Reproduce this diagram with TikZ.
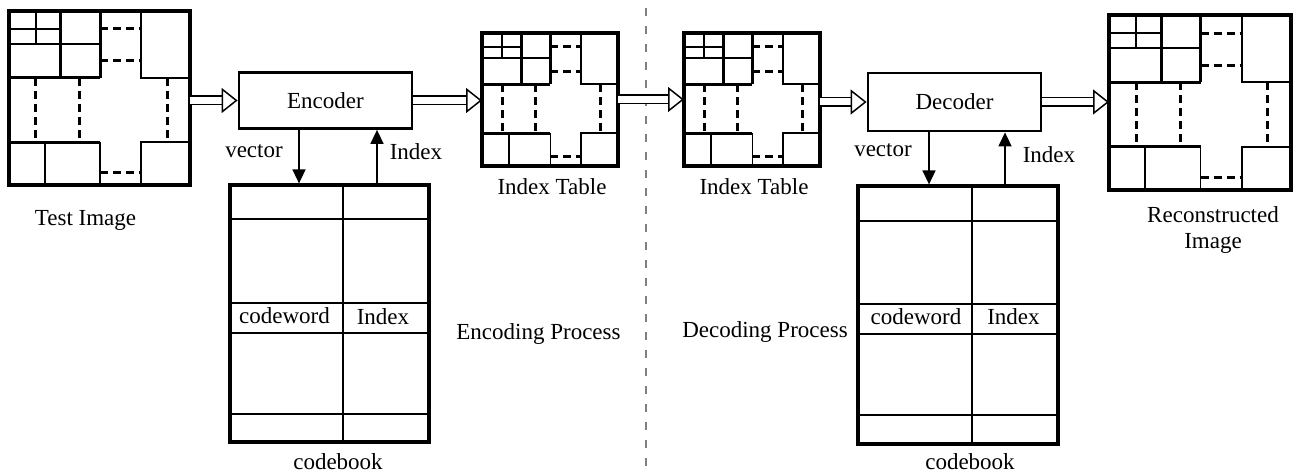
\documentclass[tikz,border=0pt]{standalone}
\usepackage{fontspec}
\setmainfont{Liberation Serif}
\usetikzlibrary{arrows.meta}

% one block-split image: x0, y0, width, height, name
\newcommand{\quadimg}[5]{%
  \node[imgframe, minimum width=#3*0.5pt, minimum height=#4*0.5pt, anchor=north west] (#5) at (#1,#2) {};
  \begin{scope}[shift={(#1,#2)}, xscale=#3/100, yscale=#4/100]
    \draw[thk] (28.7,0) -- (28.7,38.5);
    \draw[thk] (50.3,0) -- (50.3,38.5);
    \draw[thk] (0,38.5) -- (50.3,38.5);
    \draw[thk] (0,75.3) -- (50.3,75.3);
    \draw[thn] (14.9,0) -- (14.9,19);
    \draw[thn] (0,10.3) -- (28.7,10.3);
    \draw[thn] (0,19) -- (50.3,19);
    \draw[thn] (72.9,0) -- (72.9,38.5) -- (100,38.5);
    \draw[thn] (19.9,75.3) -- (19.9,100);
    \draw[thn] (50.3,75.3) -- (50.3,100);
    \draw[thn] (72.9,100) -- (72.9,75.3) -- (100,75.3);
    \foreach \y in {10.3,28.7,93.1}
      \draw[dsh] (50.3,\y) -- (72.9,\y);
    \foreach \x in {14.9,39.2,87.3}
      \draw[dsh] (\x,38.5) -- (\x,75.3);
  \end{scope}
}

\begin{document}
\begin{tikzpicture}[x=0.5pt, y=-0.5pt]
        \tikzstyle{every node} = [font=\fontsize{11.5}{13}\selectfont]
        \tikzstyle{imgframe} = [draw, line width=2pt, inner sep=0pt, outer sep=0pt]
        \tikzstyle{thk} = [line width=1.5pt]
        \tikzstyle{thn} = [line width=0.9pt]
        \tikzstyle{dsh} = [line width=1.5pt, dash pattern=on 4pt off 2.5pt]
        \tikzstyle{coder} = [draw, line width=1.4pt, minimum width=86.5pt, minimum height=28pt, inner sep=0pt]
        \tikzstyle{book} = [draw, line width=1.6pt, inner sep=0pt]
        \tikzstyle{cbline} = [line width=0.8pt]
        \tikzstyle{dblarrow} = [double, double distance=3.5pt, line width=0.75pt, -{Triangle[open, length=8pt, width=12.5pt]}]
        \tikzstyle{link} = [line width=0.75pt, -{Triangle[length=7pt, width=6.5pt]}]
        \useasboundingbox (0,0) rectangle (1293,474);

            % encoding side
            \begin{scope}
                \quadimg{9}{11}{181}{174}{imgTest}
                \node (lblTest) at (85.5,220) {Test Image};

                \node[coder] (enc) at (325.5,100.5) {Encoder};

                \node[book, minimum width=99.5pt, minimum height=128.5pt] (cbA) at (329.5,313.5) {};
                \draw[cbline] (343,185) -- (343,442);
                \foreach\y in {219,303,333,414}{
                    \draw[cbline] (230,\y) -- (429,\y);
                }
                \node (cwA) at (284.5,316) {codeword};
                \node (ixA) at (383,317) {Index};
                \node (lblBookA) at (338,462) {codebook};

                \coordinate (vecA) at (299,0);
                \coordinate (retA) at (377,0);
                \draw[link] (enc.south -| vecA) -- (cbA.north -| vecA);
                \draw[link] (cbA.north -| retA) -- (enc.south -| retA);
                \node (lblVecA) at (254,151) {vector};
                \node (lblIdxA) at (416,152) {Index};

                \quadimg{482}{33}{136}{133}{idxA}
                \node (lblIdxTabA) at (552,187) {Index Table};

                \node (lblEnc) at (538.5,334) {Encoding Process};

                \draw[dblarrow] (imgTest.east |- enc.west) -- (enc.west);
                \draw[dblarrow] (enc.east) -- (enc.east -| idxA.west);
            \end{scope}

            % dividing line
            \draw[gray, line width=0.75pt, dash pattern=on 4pt off 5pt] (646,8) -- (646,474);

            % decoding side
            \begin{scope}
                \quadimg{684}{33}{136}{133}{idxB}
                \node (lblIdxTabB) at (754,187) {Index Table};

                \node[coder, minimum height=29pt] (dec) at (954.5,102) {Decoder};

                \node[book, minimum width=100pt, minimum height=129pt] (cbB) at (958,315) {};
                \draw[cbline] (972,186) -- (972,444);
                \foreach\y in {221,304,334,415}{
                    \draw[cbline] (858,\y) -- (1058,\y);
                }
                \node (cwB) at (916,317) {codeword};
                \node (ixB) at (1013.5,317) {Index};
                \node (lblBookB) at (970,462) {codebook};

                \coordinate (vecB) at (929,0);
                \coordinate (retB) at (1005,0);
                \draw[link] (dec.south -| vecB) -- (cbB.north -| vecB);
                \draw[link] (cbB.north -| retB) -- (dec.south -| retB);
                \node (lblVecB) at (883,150) {vector};
                \node (lblIdxB) at (1049,155) {Index};

                \node (lblDec) at (765,332) {Decoding Process};

                \quadimg{1109}{15}{182}{175}{imgRec}
                \node[align=center] (lblRec) at (1213,230) {Reconstructed\\Image};

                \draw[dblarrow] (idxA.east) -- (idxB.west);
                \draw[dblarrow] (idxB.east |- dec.west) -- (dec.west);
                \draw[dblarrow] (dec.east) -- (dec.east -| imgRec.west);
            \end{scope}
\end{tikzpicture}
\end{document}
